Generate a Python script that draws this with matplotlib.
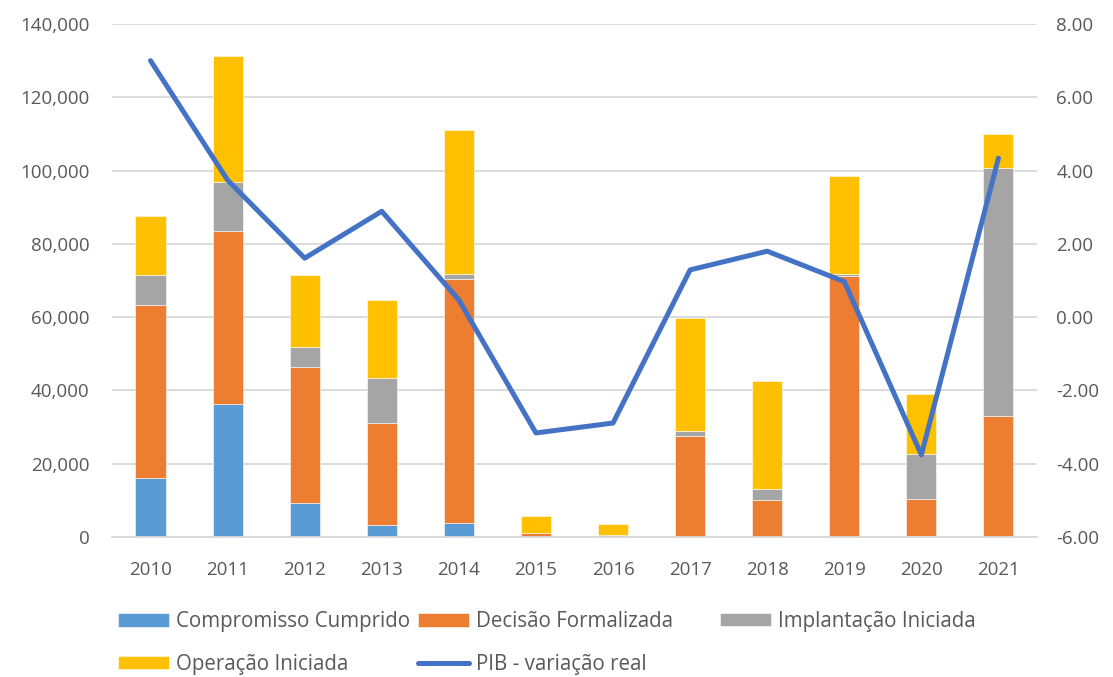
import numpy as np
import matplotlib
matplotlib.use("Agg")
import matplotlib.pyplot as plt
from matplotlib.ticker import FuncFormatter

# ── Data ─────────────────────────────────────────────────────────────────────
years = ["2010", "2011", "2012", "2013", "2014", "2015",
         "2016", "2017", "2018", "2019", "2020", "2021"]

compromisso_cumprido = [16200, 36400, 9300, 3400, 3900, 0,
                        0, 0, 0, 0, 400, 0]
decisao_formalizada = [47200, 47100, 37100, 27600, 66500, 1100,
                       500, 27600, 10200, 71200, 10000, 33100]
implantacao_iniciada = [8200, 13400, 5500, 12400, 1500, 0,
                        0, 1200, 3000, 700, 12300, 67600]
operacao_iniciada = [16100, 34300, 19500, 21400, 39200, 4500,
                     3000, 30900, 29300, 26500, 16400, 9200]

pib_variacao = [7.0, 3.74, 1.61, 2.89, 0.47, -3.16,
                -2.89, 1.29, 1.80, 0.97, -3.76, 4.34]

series_labels = ["Compromisso Cumprido", "Decisão Formalizada",
                 "Implantação Iniciada", "Operação Iniciada"]
series_colors = ["#5B9BD5", "#ED7D31", "#A5A5A5", "#FFC000"]

# ── Style ────────────────────────────────────────────────────────────────────
plt.rcParams["font.family"] = ["Open Sans", "DejaVu Sans"]
TXT = "#595959"
GRID = "#D9D9D9"
FS = 13.5
LEG_FS = 14.8

fig = plt.figure(figsize=(11.13, 6.77), dpi=100)
ax = fig.add_axes([0.1006, 0.2068, 0.8311, 0.7577])

x = np.arange(len(years))
stack = [compromisso_cumprido, decisao_formalizada,
         implantacao_iniciada, operacao_iniciada]
bottom = np.zeros(len(years))
handles = []
for vals, lbl, col in zip(stack, series_labels, series_colors):
    vals = np.array(vals, dtype=float)
    h = ax.bar(x, vals, 0.39, bottom=bottom, color=col, label=lbl,
               edgecolor="white", linewidth=0.4, zorder=2)
    handles.append(h)
    bottom += vals

ax.set_xlim(-0.5, len(years) - 0.5)
ax.set_ylim(0, 140000)
ax.set_yticks(np.arange(0, 140001, 20000))
ax.yaxis.set_major_formatter(FuncFormatter(lambda v, _: f"{v:,.0f}"))
ax.set_xticks(x)
ax.set_xticklabels(years)
ax.grid(axis="y", color=GRID, linewidth=1.3, zorder=0)
ax.set_axisbelow(True)
for s in ["top", "right", "left"]:
    ax.spines[s].set_visible(False)
ax.spines["bottom"].set_color(GRID)
ax.spines["bottom"].set_linewidth(1.3)
ax.tick_params(axis="both", length=0, labelsize=FS, colors=TXT)
ax.tick_params(axis="y", pad=16)
ax.tick_params(axis="x", pad=17)

# PIB on secondary axis
ax2 = ax.twinx()
line, = ax2.plot(x, pib_variacao, color="#4472C4", linewidth=3.6,
                 solid_capstyle="round", solid_joinstyle="round",
                 label="PIB - variação real", zorder=3)
ax2.set_ylim(-6, 8)
ax2.set_yticks(np.arange(-6, 8.01, 2))
ax2.yaxis.set_major_formatter(FuncFormatter(lambda v, _: f"{v:.2f}"))
for s in ax2.spines.values():
    s.set_visible(False)
ax2.tick_params(axis="y", length=0, labelsize=FS, colors=TXT, pad=14)

# Legend laid out as three equal-width columns, like the spreadsheet one
W, H = fig.get_size_inches() * fig.dpi
columns = [([handles[0], handles[3]], 118, 643),
           ([handles[1], line], 418, 643),
           ([handles[2]], 720, 621)]
for hs, px, py in columns:
    leg = fig.legend(hs, [h.get_label() for h in hs],
                     loc="center left", bbox_to_anchor=(px / W, 1 - py / H),
                     frameon=False, fontsize=LEG_FS, handlelength=2.5,
                     handleheight=0.62, handletextpad=0.3,
                     labelspacing=1.05, borderaxespad=0, borderpad=0)
    for t in leg.get_texts():
        t.set_color(TXT)

fig.savefig("out.png", dpi=100)
